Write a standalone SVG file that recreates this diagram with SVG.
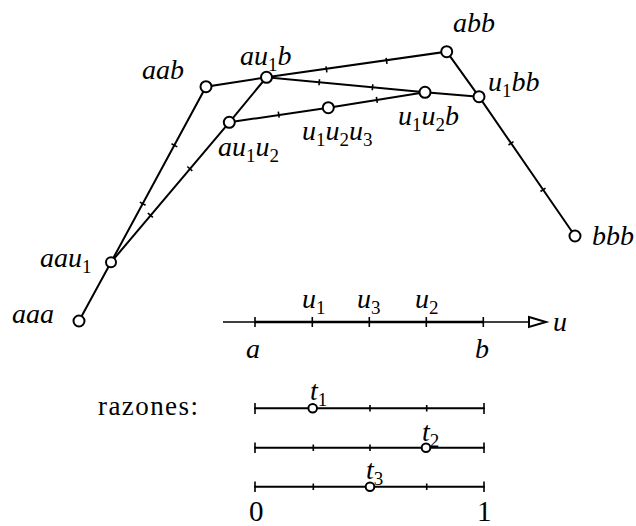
<svg xmlns="http://www.w3.org/2000/svg" width="636" height="526" viewBox="0 0 636 526">
<style>
.ln{stroke:#000;stroke-width:2;fill:none;stroke-linecap:round}
.tk{stroke:#000;stroke-width:1.6;fill:none}
.pt{fill:#fff;stroke:#000;stroke-width:2}
</style>
<rect width="636" height="526" fill="#fff"/>
<g id="connectors">
<polyline class="ln" points="79,321 111,262.3 206,86.7 266.5,77.3 446.7,51.7 479,96.7 575,236"/>
<polyline class="ln" points="111,262.3 229.3,122.3 266.5,77.3 425,92.3 479,96.7"/>
<polyline class="ln" points="229.3,122.3 328.3,107.7 425,92.3"/>
<path class="tk" d="M139.8,202.1 L145.6,205.3 M171.5,143.7 L177.3,146.9 M147.9,213.1 L152.9,217.4 M187.3,166.5 L192.3,170.8 M278.3,111.6 L279.2,117.6 M376.4,96.9 L377.3,102.9 M326.0,66.3 L326.9,72.3 M386.1,57.8 L387.0,63.8 M319.5,79.3 L319.0,85.3 M372.8,84.3 L372.3,90.3 M508.5,145.0 L513.5,141.6 M540.5,191.5 L545.5,188.1"/>
</g>
<g id="n-aaa"><circle class="pt" cx="79" cy="321" r="5.5"/><text font-family="Liberation Serif" font-style="italic" font-size="28" x="12" y="323">aaa</text></g>
<g id="n-aau1"><circle class="pt" cx="111" cy="262.3" r="5"/><text font-family="Liberation Serif" font-style="italic" font-size="28" x="40" y="267">aau<tspan font-style="normal" font-size="19" dy="6">1</tspan></text></g>
<g id="n-aab"><circle class="pt" cx="206" cy="86.7" r="5.5"/><text font-family="Liberation Serif" font-style="italic" font-size="28" x="142" y="79">aab</text></g>
<g id="n-au1b"><circle class="pt" cx="266.5" cy="77.3" r="5.5"/><text font-family="Liberation Serif" font-style="italic" font-size="28" x="240" y="65">au<tspan font-style="normal" font-size="19" dy="6">1</tspan><tspan dy="-6">b</tspan></text></g>
<g id="n-au1u2"><circle class="pt" cx="229.3" cy="122.3" r="5.5"/><text font-family="Liberation Serif" font-style="italic" font-size="28" x="218" y="156">au<tspan font-style="normal" font-size="19" dy="6">1</tspan><tspan dy="-6">u</tspan><tspan font-style="normal" font-size="19" dy="6">2</tspan></text></g>
<g id="n-u1u2u3"><circle class="pt" cx="328.3" cy="107.7" r="5.5"/><text font-family="Liberation Serif" font-style="italic" font-size="28" x="302" y="140">u<tspan font-style="normal" font-size="19" dy="6">1</tspan><tspan dy="-6">u</tspan><tspan font-style="normal" font-size="19" dy="6">2</tspan><tspan dy="-6">u</tspan><tspan font-style="normal" font-size="19" dy="6">3</tspan></text></g>
<g id="n-u1u2b"><circle class="pt" cx="425" cy="92.3" r="5.5"/><text font-family="Liberation Serif" font-style="italic" font-size="28" x="398" y="125">u<tspan font-style="normal" font-size="19" dy="6">1</tspan><tspan dy="-6">u</tspan><tspan font-style="normal" font-size="19" dy="6">2</tspan><tspan dy="-6">b</tspan></text></g>
<g id="n-abb"><circle class="pt" cx="446.7" cy="51.7" r="5.5"/><text font-family="Liberation Serif" font-style="italic" font-size="28" x="453" y="32">abb</text></g>
<g id="n-u1bb"><circle class="pt" cx="479" cy="96.7" r="5.5"/><text font-family="Liberation Serif" font-style="italic" font-size="28" x="488" y="91">u<tspan font-style="normal" font-size="19" dy="6">1</tspan><tspan dy="-6">bb</tspan></text></g>
<g id="n-bbb"><circle class="pt" cx="575" cy="236" r="5.5"/><text font-family="Liberation Serif" font-style="italic" font-size="28" x="592" y="245">bbb</text></g>
<g id="axis">
<line x1="223" y1="322" x2="530" y2="322" stroke="#000" stroke-width="1.5"/>
<line x1="255" y1="322" x2="483.3" y2="322" stroke="#000" stroke-width="2.4"/>
<path d="M529,317 L546,322 L529,327 Z" fill="#fff" stroke="#000" stroke-width="2"/>
<path class="tk" d="M255,317 V327 M312.3,317 V327 M369.3,317 V327 M426.3,317 V327 M483.3,317 V327"/>
<text font-family="Liberation Serif" font-style="italic" font-size="28" x="553" y="331">u</text>
<text font-family="Liberation Serif" font-style="italic" font-size="28" x="302" y="308">u<tspan font-style="normal" font-size="19" dy="6">1</tspan></text>
<text font-family="Liberation Serif" font-style="italic" font-size="28" x="357" y="308">u<tspan font-style="normal" font-size="19" dy="6">3</tspan></text>
<text font-family="Liberation Serif" font-style="italic" font-size="28" x="415" y="308">u<tspan font-style="normal" font-size="19" dy="6">2</tspan></text>
<text font-family="Liberation Serif" font-style="italic" font-size="28" x="246" y="358">a</text>
<text font-family="Liberation Serif" font-style="italic" font-size="28" x="475" y="358">b</text>
</g>
<g id="ratios">
<text font-family="Liberation Serif" font-size="27" x="98" y="415" textLength="100">razones:</text>
<path class="ln" d="M255,408.3 H484 M255,447.7 H484 M255,486.7 H484"/>
<path class="tk" d="M255,403 V414 M484,403 V414 M255,442.5 V453 M484,442.5 V453 M255,481.5 V492 M484,481.5 V492 M370,405 V411.6 M426.7,405 V411.6 M313.3,444.5 V451 M370,444.5 V451 M313.3,483.5 V490 M426.7,483.5 V490"/>
<circle class="pt" cx="312.7" cy="408.3" r="4.3"/>
<circle class="pt" cx="426" cy="447.7" r="4.3"/>
<circle class="pt" cx="370" cy="486.7" r="4.3"/>
<text font-family="Liberation Serif" font-style="italic" font-size="28" x="310" y="400">t<tspan font-style="normal" font-size="19" dy="6">1</tspan></text>
<text font-family="Liberation Serif" font-style="italic" font-size="28" x="422" y="441">t<tspan font-style="normal" font-size="19" dy="6">2</tspan></text>
<text font-family="Liberation Serif" font-style="italic" font-size="28" x="366" y="479">t<tspan font-style="normal" font-size="19" dy="6">3</tspan></text>
<text font-family="Liberation Serif" font-size="29" x="249" y="521">0</text>
<text font-family="Liberation Serif" font-size="29" x="477" y="521">1</text>
</g>
</svg>
